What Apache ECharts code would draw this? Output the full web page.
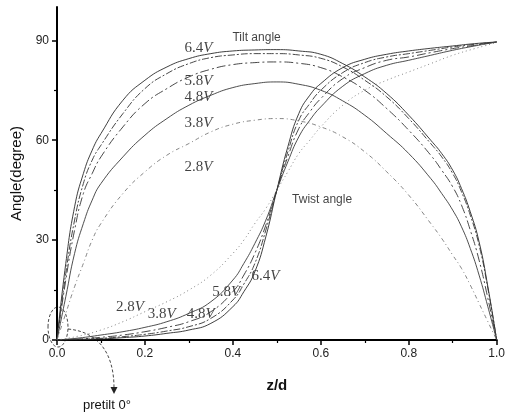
<!DOCTYPE html>
<html>
<head>
<meta charset="utf-8">
<script src="https://cdn.jsdelivr.net/npm/echarts@6/dist/echarts.min.js"></script>
<style>
html, body { margin: 0; padding: 0; background: #fff; }
#chart { width: 508px; height: 418px; }
</style>
</head>
<body>
<div id="chart"></div>
<script>
// z/d positions for the tilt curves
var zTilt = [0, 0.02, 0.04, 0.06, 0.08, 0.1, 0.15, 0.2, 0.25, 0.3, 0.35, 0.4, 0.45, 0.5, 0.55, 0.6, 0.65, 0.7, 0.75, 0.8, 0.85, 0.875, 0.9, 0.92, 0.94, 0.96, 0.98, 1.0];
var tilt64 = [0, 23, 40, 50, 57, 62, 72, 78, 82, 84.5, 86, 86.8, 87.1, 87.2, 86.8, 85.8, 83, 79, 74, 67.5, 60, 56, 51, 45.5, 38.5, 29.5, 16, 0];
var tilt58 = [0, 20, 36, 47, 54, 58.5, 68, 75.5, 80, 83, 84.8, 85.6, 86, 86, 85.6, 84.6, 82, 78, 73, 66.5, 59, 55, 50, 44.5, 37.5, 28.5, 15.5, 0];
var tilt48 = [0, 18, 33, 44, 50, 55, 64, 71, 75.5, 79, 81.3, 82.7, 83.3, 83.5, 83.1, 81.8, 79, 75, 69.5, 63, 55.5, 51, 46, 40.5, 33, 24, 12.5, 0];
var tilt38 = [0, 13, 26, 35, 42, 47, 55, 61.5, 66.5, 70.5, 73.5, 75.8, 77, 77.5, 76.8, 75, 71.8, 67.5, 62, 56, 48.5, 44, 39, 34, 27.5, 19.5, 10, 0];
var tilt28 = [0, 8, 16, 23, 30, 35, 44, 50.5, 55.5, 59, 62.5, 64.8, 66, 66.5, 65.8, 64, 61, 56.5, 50.5, 43.5, 35, 30.5, 25.5, 21.5, 16.5, 11, 5.5, 0];

// z/d positions for the twist curves
var zTwist = [0, 0.05, 0.1, 0.15, 0.2, 0.25, 0.3, 0.35, 0.4, 0.425, 0.45, 0.475, 0.5, 0.525, 0.55, 0.575, 0.6, 0.65, 0.7, 0.75, 0.8, 0.85, 0.9, 0.95, 1.0];
var twist64 = [0, 0.1, 0.3, 0.7, 1.2, 2, 3, 5, 10, 14.5, 20.5, 31, 45, 58, 68, 73.5, 77, 81.8, 84.3, 85.8, 86.8, 87.6, 88.3, 89, 89.5];
var twist58 = [0, 0.2, 0.5, 1, 1.7, 2.7, 4, 6.5, 12, 16.8, 23, 33, 45, 56.5, 66, 71, 75, 80.3, 83.3, 85, 86, 87, 88, 88.8, 89.5];
var twist48 = [0, 0.3, 0.8, 1.5, 2.5, 3.8, 5.5, 8.5, 14.5, 19.5, 26, 34.5, 45, 55, 63.5, 68.5, 72.5, 78.5, 81.8, 84, 85, 86.3, 87.5, 88.5, 89.5];
var twist38 = [0, 0.6, 1.5, 2.5, 3.8, 5.5, 8, 11.5, 18, 23, 29, 36, 45, 53.5, 61, 66, 70, 76.2, 80, 82.5, 84, 85.5, 87, 88.3, 89.5];
var twist28 = [0, 1.2, 3, 5.5, 8.5, 11.5, 15, 19.5, 26, 30, 35, 39.5, 45, 50.5, 56, 60, 64, 70.5, 75, 78, 80.5, 83, 85.5, 87.5, 89.3];

var voltages = ['6.4', '5.8', '4.8', '3.8', '2.8'];
var yTicks = [0, 30, 60, 90];
var yMinorTicks = [15, 45, 75];

// where the voltage labels sit, in data units
var tiltLabelAt = [[0.322, 87.6], [0.322, 77.7], [0.322, 72.9], [0.322, 65.1], [0.322, 51.9]];
var twistLabelAt = [[0.474, 19.2], [0.385, 14.4], [0.327, 7.8], [0.238, 7.8], [0.166, 9.9]];

var lineStyles = [
    { color: '#2a2a2a', type: 'solid' },
    { color: '#333', type: [7, 2, 2, 2] },
    { color: '#333', type: [9, 3, 2, 3] },
    { color: '#3a3a3a', type: 'solid' },
    { color: '#777', type: [4, 3, 1, 3] }
];

function pairs(xs, ys) {
    return xs.map(function (x, i) { return [x, ys[i]]; });
}

var tiltSets = [tilt64, tilt58, tilt48, tilt38, tilt28];
var twistSets = [twist64, twist58, twist48, twist38, twist28];

var series = [];
tiltSets.forEach(function (d, i) {
    series.push({
        name: 'tilt ' + voltages[i], type: 'line', smooth: 0.5, symbol: 'none',
        data: pairs(zTilt, d),
        lineStyle: { color: lineStyles[i].color, type: lineStyles[i].type, width: 0.9 }
    });
});
twistSets.forEach(function (d, i) {
    series.push({
        name: 'twist ' + voltages[i], type: 'line', smooth: 0.5, symbol: 'none',
        data: pairs(zTwist, d),
        lineStyle: { color: lineStyles[i].color, type: i === 4 ? [1, 3] : lineStyles[i].type, width: 0.9 }
    });
});

var vRich = {
    n: { fontFamily: 'Liberation Serif', fontSize: 15, color: '#111' },
    v: { fontFamily: 'Liberation Serif', fontSize: 15, fontStyle: 'italic', color: '#111' }
};
function voltLabels(pos) {
    return pos.map(function (p, i) {
        return { value: p, label: { formatter: '{n|' + voltages[i] + '}{v|V}' } };
    });
}
series.push({
    type: 'scatter', symbolSize: 1, itemStyle: { color: 'transparent' }, silent: true,
    data: voltLabels(tiltLabelAt).concat(voltLabels(twistLabelAt)),
    label: { show: true, position: 'inside', rich: vRich }
});
series.push({
    type: 'scatter', symbolSize: 1, itemStyle: { color: 'transparent' }, silent: true,
    data: [
        { value: [0.454, 90.8], label: { formatter: 'Tilt angle' } },
        { value: [0.603, 42], label: { formatter: 'Twist angle' } }
    ],
    label: { show: true, position: 'inside', fontFamily: 'Liberation Sans', fontSize: 12, color: '#111' }
});

var e = echarts.init(document.getElementById('chart'));
var option = {
    backgroundColor: '#fff',
    animation: false,
    grid: { left: 57, right: 10, top: 7, bottom: 78 },
    xAxis: {
        type: 'value', min: 0, max: 1, interval: 0.2,
        name: 'z/d', nameLocation: 'middle', nameGap: 38,
        nameTextStyle: { fontFamily: 'Liberation Sans', fontSize: 15, fontWeight: 'bold', color: '#111' },
        axisLine: { lineStyle: { color: '#000', width: 2 } },
        axisTick: { length: 5, lineStyle: { color: '#000', width: 1.5 } },
        minorTick: { show: true, splitNumber: 2, length: 3, lineStyle: { color: '#000', width: 1.2 } },
        splitLine: { show: false },
        axisLabel: {
            fontFamily: 'Liberation Sans', fontSize: 12, color: '#222', margin: 8,
            formatter: function (v) { return v.toFixed(1); }
        }
    },
    yAxis: [{
        type: 'value', min: 0, max: 100, position: 'left',
        name: 'Angle(degree)', nameLocation: 'middle', nameGap: 33,
        nameTextStyle: { fontFamily: 'Liberation Sans', fontSize: 15, color: '#111' },
        axisLine: { lineStyle: { color: '#000', width: 2 } },
        axisTick: { length: 5, customValues: yTicks, lineStyle: { color: '#000', width: 1.5 } },
        axisLabel: { customValues: yTicks, fontFamily: 'Liberation Sans', fontSize: 12, color: '#222', margin: 8 },
        splitLine: { show: false }
    }, {
        type: 'value', min: 0, max: 100, position: 'left',
        axisLine: { show: false },
        axisTick: { length: 3, customValues: yMinorTicks, lineStyle: { color: '#000', width: 1.2 } },
        axisLabel: { show: false },
        splitLine: { show: false }
    }],
    graphic: [
        { type: 'ellipse', shape: { cx: 58, cy: 327, rx: 10, ry: 20 },
          style: { fill: 'none', stroke: '#333', lineWidth: 0.9, lineDash: [3, 2] } },
        { type: 'bezierCurve', shape: { x1: 68, y1: 329, cpx1: 100, cpy1: 332, cpx2: 114, cpy2: 355, x2: 114, y2: 388 },
          style: { fill: 'none', stroke: '#333', lineWidth: 0.9, lineDash: [3, 2] } },
        { type: 'polygon', shape: { points: [[110.5, 387], [117.5, 387], [114, 394]] },
          style: { fill: '#222' } },
        { type: 'text', left: 83, top: 399,
          style: { text: 'pretilt 0°', font: '13px "Liberation Sans"', fill: '#111' } }
    ],
    series: series
};
e.setOption(option);
</script>
</body>
</html>
